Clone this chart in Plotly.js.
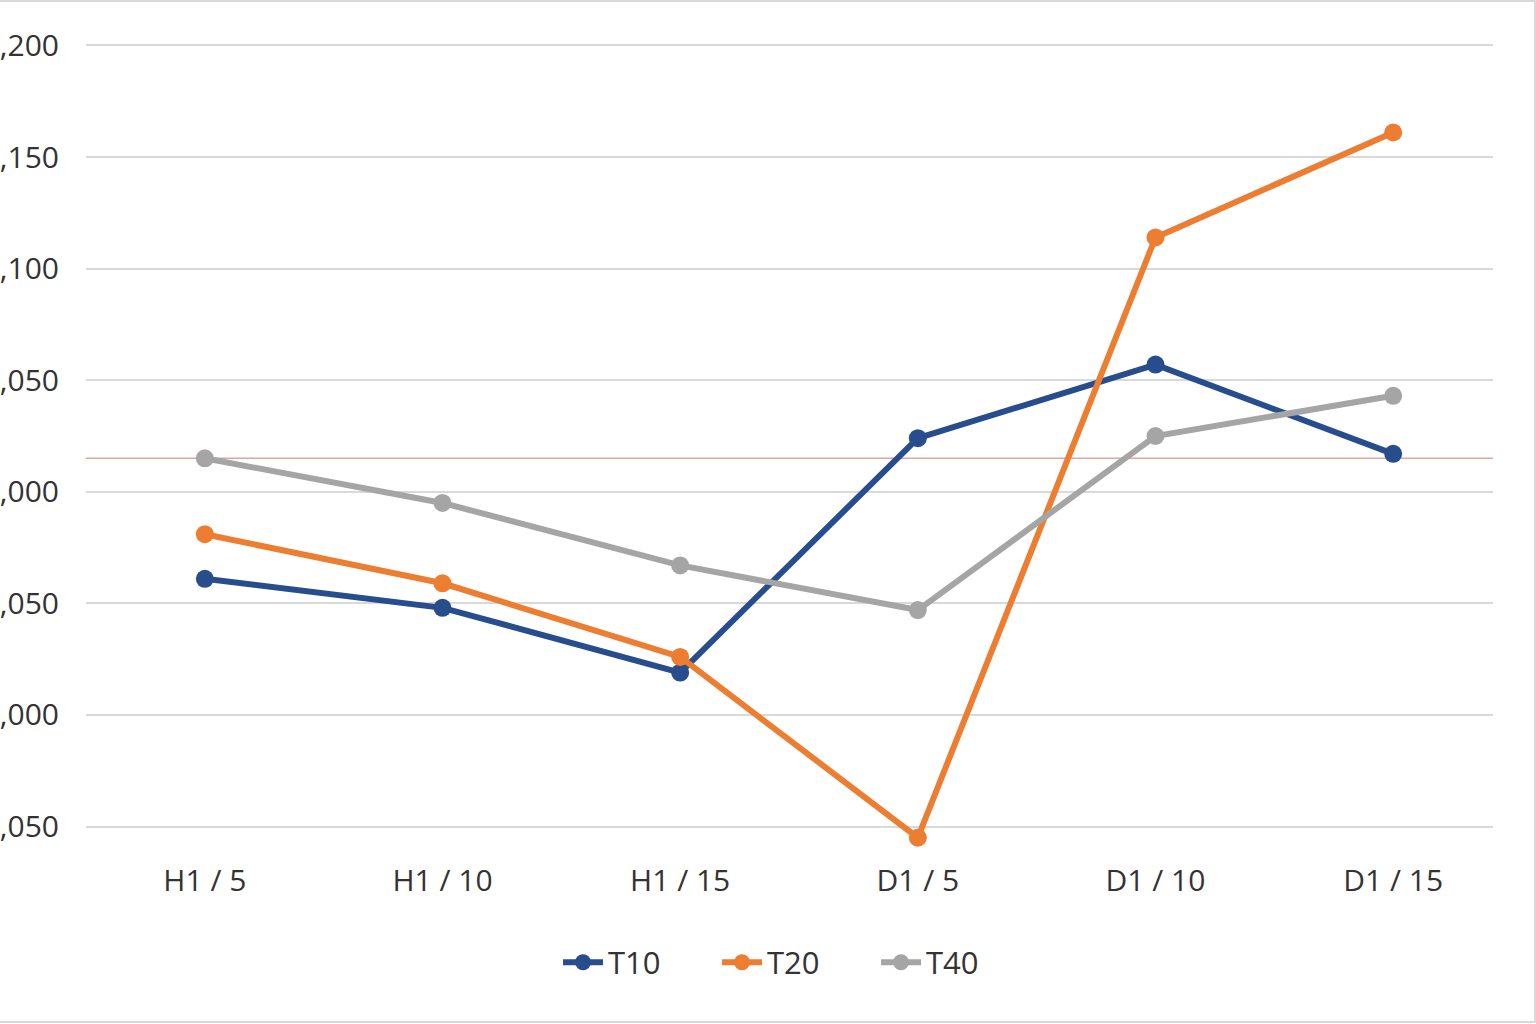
<!DOCTYPE html>
<html>
<head>
<meta charset="utf-8">
<script src="https://cdn.plot.ly/plotly-3.0.1.min.js"></script>
<style>
  html, body { margin: 0; padding: 0; background: #fff; }
  #chart {
    width: 1534px; height: 1019px;
    border-top: 2px solid #d9d9d9;
    border-right: 2px solid #d9d9d9;
    border-bottom: 2px solid #d9d9d9;
  }
</style>
</head>
<body>
<div id="chart"></div>
<script>
// categories and series
const categories = ['H1 / 5', 'H1 / 10', 'H1 / 15', 'D1 / 5', 'D1 / 10', 'D1 / 15'];
const t10 = [0.961, 0.948, 0.919, 1.024, 1.057, 1.017];
const t20 = [0.981, 0.959, 0.926, 0.845, 1.114, 1.161];
const t40 = [1.015, 0.995, 0.967, 0.947, 1.025, 1.043];
const refLevel = 1.015;

// y tick labels (left part is cut off in the original)
const yTickVals = [1.20, 1.15, 1.10, 1.05, 1.00, 0.95, 0.90, 0.85];
const yTickText = [',200', ',150', ',100', ',050', ',000', ',050', ',000', ',050'];

function makeTrace(name, values, color) {
    return {
        type: 'scatter',
        mode: 'lines+markers',
        name: name,
        x: categories,
        y: values,
        line: { color: color, width: 6 },
        marker: { color: color, size: 18 }
    };
}

function plotChart() {
    let chartData = [
        makeTrace('T10', t10, '#284D8C'),
        makeTrace('T20', t20, '#ED7D31'),
        makeTrace('T40', t40, '#A5A5A5')
    ];

    const layout = {
        width: 1534,
        height: 1019,
        paper_bgcolor: '#fff',
        plot_bgcolor: '#fff',
        font: { family: 'Open Sans, Noto Sans, sans-serif', size: 30, color: '#333' },
        margin: { l: 86, r: 41, t: 10, b: 161 },
        showlegend: true,
        legend: {
            orientation: 'h',
            x: 0.505,
            xanchor: 'center',
            y: -0.121,
            yanchor: 'middle',
            font: { size: 31, color: '#333' },
            entrywidth: 104,
            entrywidthmode: 'pixels',
            itemwidth: 40
        },
        xaxis: {
            type: 'category',
            range: [-0.5, 5.42],
            showgrid: false,
            zeroline: false,
            showline: false,
            ticks: '',
            tickfont: { size: 30, color: '#333' }
        },
        yaxis: {
            range: [0.835, 1.215],
            tickvals: yTickVals,
            ticktext: yTickText,
            showgrid: true,
            gridcolor: '#d9d9d9',
            gridwidth: 2,
            zeroline: false,
            showline: false,
            ticks: '',
            ticklabelstandoff: 26,
            tickfont: { size: 30, color: '#333' }
        },
        shapes: [{
            type: 'line',
            xref: 'paper', x0: 0, x1: 1,
            yref: 'y', y0: refLevel, y1: refLevel,
            line: { color: '#D8A8A2', width: 1.5 },
            layer: 'below'
        }]
    };

    Plotly.newPlot('chart', chartData, layout, { staticPlot: true });
}

plotChart();
</script>
</body>
</html>
